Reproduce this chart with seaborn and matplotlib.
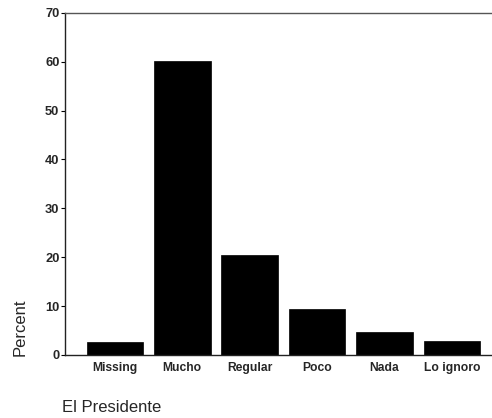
"""Bar chart: El Presidente (Percent)"""
import matplotlib
matplotlib.use("Agg")
import matplotlib.pyplot as plt
import pandas as pd
import seaborn as sns

categories = ["Missing", "Mucho", "Regular", "Poco", "Nada", "Lo ignoro"]
percent = [2.7, 60.2, 20.5, 9.4, 4.7, 2.9]
y_ticks = [0, 10, 20, 30, 40, 50, 60, 70]

df = pd.DataFrame({"Respuesta": categories, "Percent": percent})

sns.set_style("white")
plt.rcParams["font.family"] = ["Liberation Sans", "DejaVu Sans"]

fig = plt.figure(figsize=(4.92, 4.18), dpi=100)
ax = fig.add_axes([0.132, 0.151, 0.866, 0.818])
sns.barplot(data=df, x="Respuesta", y="Percent", color="black", width=0.84,
            saturation=1, edgecolor="black", linewidth=0.5, ax=ax)

ax.set_xlim(-0.74, 5.58)
ax.set_ylim(0, 70)
ax.set_yticks(y_ticks)
ax.set_yticklabels([str(t) for t in y_ticks], fontsize=9.3, fontweight="bold")
ax.set_xticks(range(len(categories)))
ax.set_xticklabels(categories, fontsize=8.7, fontweight="bold")
ax.tick_params(axis="y", length=3, width=0.8, color="black", pad=1, direction="out", left=True)
ax.tick_params(axis="x", length=0, pad=5)
ax.set_xlabel("")
ax.set_ylabel("")

for side in ["left", "bottom", "top"]:
    ax.spines[side].set_visible(True)
    ax.spines[side].set_color("#222222")
    ax.spines[side].set_linewidth(1.0)
ax.spines["top"].set_color("#555555")
ax.spines["right"].set_visible(False)

fig.text(20 / 492, 1 - 327 / 418, "Percent", rotation=90, ha="center", va="center", fontsize=12)
fig.text(62 / 492, 1 - 407 / 418, "El Presidente", ha="left", va="center", fontsize=12)

fig.savefig("out.png", dpi=100)
